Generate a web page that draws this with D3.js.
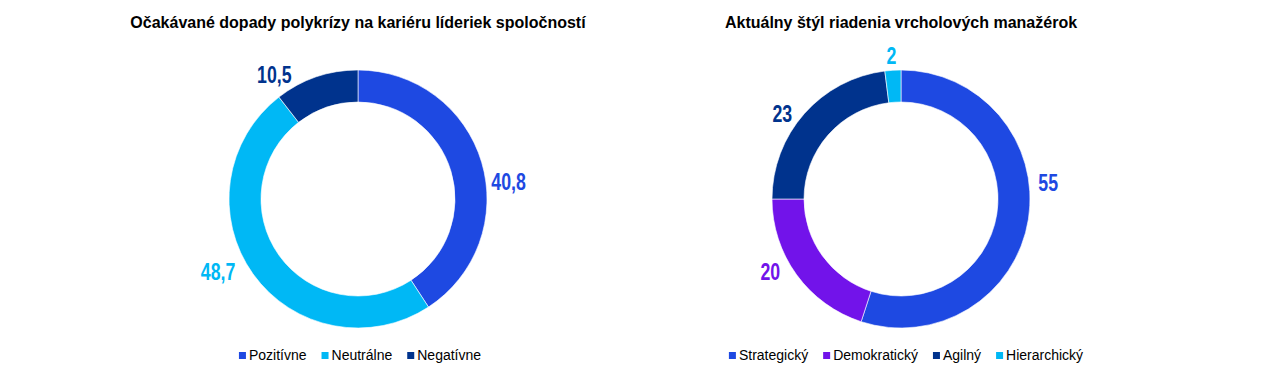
<!DOCTYPE html>
<html>
<head>
<meta charset="utf-8">
<script src="https://cdn.jsdelivr.net/npm/d3@7"></script>
<style>
  html, body { margin: 0; padding: 0; background: #fff; }
  svg { display: block; }
</style>
</head>
<body>
<svg id="chart" width="1280" height="382"></svg>
<script>
// ---- Data ----
const title1 = "Očakávané dopady polykrízy na kariéru líderiek spoločností";
const categories1 = ["Pozitívne", "Neutrálne", "Negatívne"];
const values1 = [40.8, 48.7, 10.5];
const labels1 = ["40,8", "48,7", "10,5"];

const title2 = "Aktuálny štýl riadenia vrcholových manažérok";
const categories2 = ["Strategický", "Demokratický", "Agilný", "Hierarchický"];
const values2 = [55, 20, 23, 2];
const labels2 = ["55", "20", "23", "2"];

// ---- Styles / layout ----
const colors1 = ["#1E49E2", "#00B8F5", "#00338D"];
const colors2 = ["#1E49E2", "#7213EA", "#00338D", "#00B8F5"];

const layout = {
  outer: 129, inner: 97, cy: 199,
  titleY: 28, legendY: 360
};
// manual label nudges (as in the original's hand-placed data labels)
const nudges1 = [[2, 22], [-11, -7], [-22, 5]];
const nudges2 = [[2, -38], [-10, -8], [-6, 5], [4, -7]];

const svg = d3.select("#chart");

function drawDonut(cx, legendCx, title, titleSize, cats, vals, labs, cols, nudges) {
  const g = svg.append("g");

  g.append("text")
    .attr("x", cx).attr("y", layout.titleY)
    .attr("text-anchor", "middle")
    .attr("font-family", "Liberation Sans, Arial, sans-serif")
    .attr("font-weight", "bold")
    .attr("font-size", titleSize)
    .attr("fill", "#000")
    .text(title);

  const pie = d3.pie().sort(null).value(d => d)
    .startAngle(0).endAngle(2 * Math.PI);
  const arcs = pie(vals);
  const arc = d3.arc().innerRadius(layout.inner).outerRadius(layout.outer);

  const dg = g.append("g").attr("transform", `translate(${cx},${layout.cy})`);
  dg.selectAll("path").data(arcs).join("path")
    .attr("d", arc)
    .attr("fill", (d, i) => cols[i])
    .attr("stroke", "#fff")
    .attr("stroke-width", 0.6);

  const lr = layout.outer + 8;
  dg.selectAll("text.lbl").data(arcs).join("text")
    .attr("class", "lbl")
    .each(function(d, i) {
      const a = (d.startAngle + d.endAngle) / 2;
      const x = lr * Math.sin(a) + nudges[i][0];
      const y = -lr * Math.cos(a) + nudges[i][1];
      d3.select(this)
        .attr("transform", `translate(${x},${y}) scale(0.74,1)`)
        .attr("text-anchor", Math.sin(a) >= 0 ? "start" : "end");
    })
    .attr("dominant-baseline", "central")
    .attr("font-family", "Liberation Sans, Arial, sans-serif")
    .attr("font-weight", "bold")
    .attr("font-size", 24)
    .attr("fill", (d, i) => cols[i])
    .text((d, i) => labs[i]);

  // legend
  const lg = g.append("g");
  const sq = 7, gapSq = 3, gapItem = 15;
  const items = lg.selectAll("g").data(cats).join("g");
  items.append("rect")
    .attr("width", sq).attr("height", sq)
    .attr("y", layout.legendY - 8)
    .attr("fill", (d, i) => cols[i]);
  items.append("text")
    .attr("x", sq + gapSq).attr("y", layout.legendY)
    .attr("font-family", "Liberation Sans, Arial, sans-serif")
    .attr("font-size", 14)
    .attr("fill", "#000")
    .text(d => d);
  const widths = [];
  items.each(function() {
    widths.push(this.querySelector("text").getComputedTextLength() + sq + gapSq);
  });
  const total = d3.sum(widths) + gapItem * (widths.length - 1);
  let x = legendCx - total / 2;
  items.each(function(d, i) {
    d3.select(this).attr("transform", `translate(${x},0)`);
    x += widths[i] + gapItem;
  });
}

drawDonut(358, 360, title1, 16, categories1, values1, labels1, colors1, nudges1);
drawDonut(901, 906, title2, 16, categories2, values2, labels2, colors2, nudges2);
</script>
</body>
</html>
